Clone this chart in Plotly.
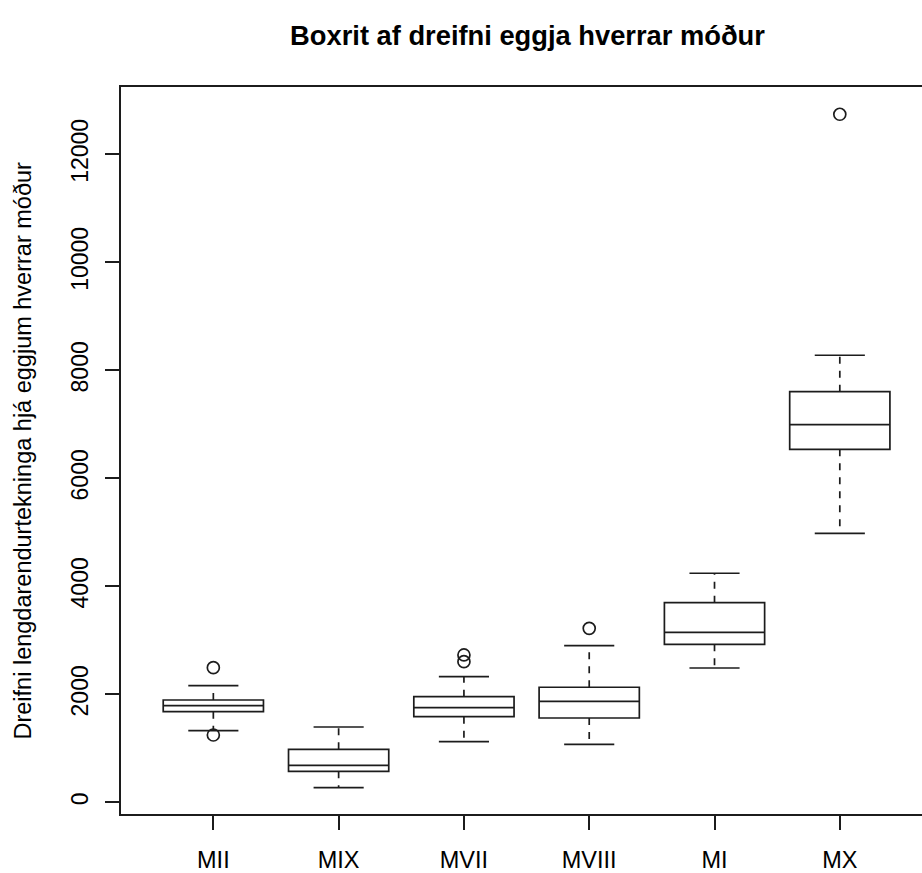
import plotly.graph_objects as go

# Egg repeat-length spread per mother: five-number summaries and outliers
categories = ["MII", "MIX", "MVII", "MVIII", "MI", "MX"]
lower_whisker = [1326, 270, 1122, 1074, 2487, 4981]
q1 = [1678, 574, 1585, 1561, 2926, 6537]
median = [1789, 685, 1752, 1870, 3148, 6993]
q3 = [1894, 981, 1956, 2130, 3696, 7604]
upper_whisker = [2159, 1394, 2326, 2900, 4241, 8278]
outlier_group = ["MII", "MII", "MVII", "MVII", "MVIII", "MX"]
outlier_value = [2493, 1246, 2728, 2604, 3222, 12741]
y_ticks = [0, 2000, 4000, 6000, 8000, 10000, 12000]

INK = "#1c1c1c"
LW = 1.7
FONT = "Liberation Sans, Arial, sans-serif"
BOX_W = 0.8
CAP_HALF = 0.2

pos = list(range(1, len(categories) + 1))
pos_of = {c: p for c, p in zip(categories, pos)}

fig = go.Figure()

# Boxes with median line (whiskers drawn separately, dashed)
fig.add_trace(go.Box(
    x=pos, q1=q1, median=median, q3=q3,
    lowerfence=q1, upperfence=q3,
    width=BOX_W, whiskerwidth=0,
    fillcolor="rgba(255,255,255,0)",
    line=dict(color=INK, width=LW),
    boxpoints=False, showlegend=False, hoverinfo="skip",
))

# Dashed whiskers
wx, wy = [], []
for p, lo, a, b, hi in zip(pos, lower_whisker, q1, q3, upper_whisker):
    wx += [p, p, None, p, p, None]
    wy += [b, hi, None, a, lo, None]
fig.add_trace(go.Scatter(
    x=wx, y=wy, mode="lines",
    line=dict(color=INK, width=LW, dash="7px,7px"),
    showlegend=False, hoverinfo="skip",
))

# Whisker caps
cx, cy = [], []
for p, lo, hi in zip(pos, lower_whisker, upper_whisker):
    cx += [p - CAP_HALF, p + CAP_HALF, None, p - CAP_HALF, p + CAP_HALF, None]
    cy += [hi, hi, None, lo, lo, None]
fig.add_trace(go.Scatter(
    x=cx, y=cy, mode="lines",
    line=dict(color=INK, width=LW),
    showlegend=False, hoverinfo="skip",
))

# Outliers as open circles
fig.add_trace(go.Scatter(
    x=[pos_of[g] for g in outlier_group], y=outlier_value, mode="markers",
    marker=dict(symbol="circle-open", size=12, color=INK, line=dict(width=LW)),
    showlegend=False, hoverinfo="skip",
))

fig.update_layout(
    width=922, height=873,
    margin=dict(l=121, r=0, t=87, b=59),
    paper_bgcolor="white", plot_bgcolor="white",
    font=dict(family=FONT, color="black", size=23),
    title=dict(
        text="<b>Boxrit af dreifni eggja hverrar móður</b>",
        font=dict(family=FONT, size=27.3, color="black"),
        x=527.5 / 922, xref="container", xanchor="center",
        y=1 - 35 / 873, yref="container", yanchor="middle",
    ),
    xaxis=dict(
        range=[0.263, 6.656],
        tickmode="array", tickvals=pos, ticktext=categories,
        ticks="outside", ticklen=14, tickwidth=LW, tickcolor=INK,
        showline=True, linecolor=INK, linewidth=LW, mirror=True,
        showgrid=False, zeroline=False,
        tickfont=dict(size=23.5, color="black"),
        ticklabelstandoff=10,
    ),
    yaxis=dict(
        range=[-217, 13246],
        tickmode="array", tickvals=y_ticks, ticktext=[str(v) for v in y_ticks],
        tickangle=-90,
        ticks="outside", ticklen=14, tickwidth=LW, tickcolor=INK,
        showline=True, linecolor=INK, linewidth=LW, mirror=False,
        showgrid=False, zeroline=False,
        tickfont=dict(size=23, color="black"),
        ticklabelstandoff=8,
    ),
    annotations=[dict(
        text="Dreifni lengdarendurtekninga hjá eggjum hverrar móður",
        xref="paper", yref="paper",
        x=(22 - 121) / 801, y=0.5,
        xanchor="center", yanchor="middle",
        textangle=-90, showarrow=False,
        font=dict(family=FONT, size=23.5, color="black"),
    )],
)

fig.write_html("out.html")
